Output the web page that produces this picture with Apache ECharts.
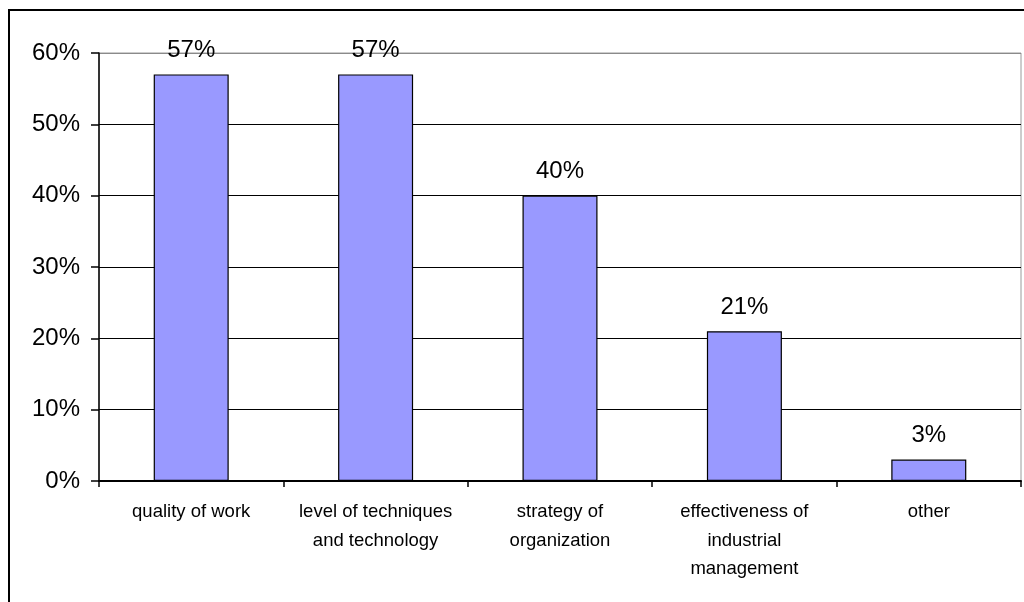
<!DOCTYPE html>
<html><head><meta charset="utf-8">
<script src="https://cdn.jsdelivr.net/npm/echarts@6/dist/echarts.min.js"></script>
<style>html,body{margin:0;padding:0;background:#fff}#c{width:1024px;height:602px}</style>
</head><body><div id="c"></div>
<script>
const categories = ['quality of work', 'level of techniques\nand technology', 'strategy of\norganization', 'effectiveness of\nindustrial\nmanagement', 'other'];
const values = [57, 57, 40, 21, 3];
const yTicks = [0, 10, 20, 30, 40, 50, 60];

const chart = echarts.init(document.getElementById('c'), null, {renderer: 'canvas'});
const font = '"Liberation Sans", Arial, sans-serif';
chart.setOption({
  animation: false,
  backgroundColor: '#fff',
  graphic: [{
    type: 'rect', shape: {x: 9, y: 10, width: 1100, height: 700},
    style: {fill: 'none', stroke: '#000', lineWidth: 2}, z: 0
  }],
  grid: {left: 99, top: 53, right: 3, bottom: 121, show: true, borderColor: '#9a9a9a', borderWidth: 1, backgroundColor: 'transparent'},
  xAxis: {
    type: 'category', data: categories,
    axisLine: {lineStyle: {color: '#000', width: 2}},
    axisTick: {show: true, length: 6, lineStyle: {color: '#000', width: 1.5}},
    axisLabel: {interval: 0, color: '#000', fontFamily: font, fontSize: 18.5, lineHeight: 28.5, margin: 17}
  },
  yAxis: {
    type: 'value', min: yTicks[0], max: yTicks[yTicks.length - 1], interval: 10,
    axisLine: {show: true, lineStyle: {color: '#000', width: 1.5}},
    axisTick: {show: true, length: 8, lineStyle: {color: '#000', width: 1.5}},
    axisLabel: {color: '#000', fontFamily: font, fontSize: 24, margin: 19, formatter: v => v + '%'},
    splitLine: {show: true, lineStyle: {color: ['#000', '#000', '#000', '#000', '#000', '#000', '#8a8a8a'], width: 1}}
  },
  series: [{
    type: 'bar', data: values, barWidth: 75,
    itemStyle: {color: '#9999FF', borderColor: '#000', borderWidth: 1.2},
    label: {show: true, position: 'top', distance: 12, color: '#000', fontFamily: font, fontSize: 24, formatter: p => p.value + '%'}
  }]
});
</script></body></html>
